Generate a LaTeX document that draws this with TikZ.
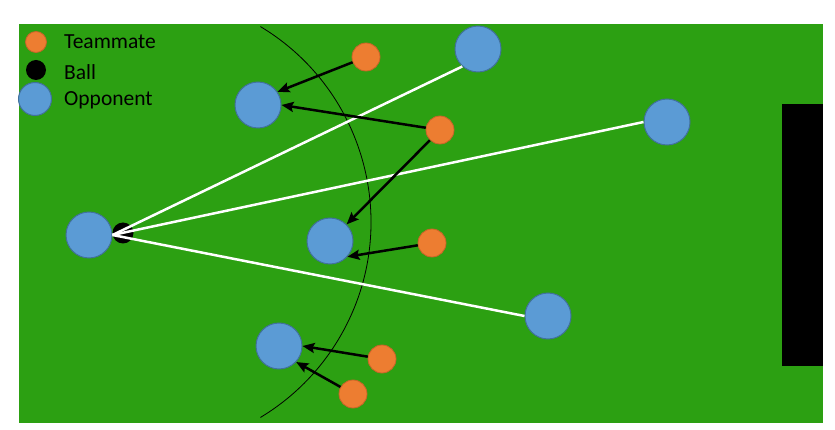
\documentclass[tikz,border=0pt]{standalone}
\usepackage{fontspec}
\setmainfont{Carlito}
\usetikzlibrary{arrows.meta}
\definecolor{field}{RGB}{44,160,18}
\definecolor{oppfill}{RGB}{91,155,213}
\definecolor{oppline}{RGB}{65,113,156}
\definecolor{matefill}{RGB}{237,125,49}
\definecolor{mateline}{RGB}{200,100,40}
\tikzset{
  opp/.style={circle, fill=oppfill, draw=oppline, line width=1pt, minimum size=46pt, inner sep=0pt},
  legopp/.style={circle, fill=oppfill, draw=oppline, line width=1pt, minimum size=33pt, inner sep=0pt},
  mate/.style={circle, fill=matefill, draw=mateline, line width=0.8pt, minimum size=28pt, inner sep=0pt},
  legmate/.style={circle, fill=matefill, draw=mateline, line width=0.8pt, minimum size=21pt, inner sep=0pt},
  ballst/.style={circle, fill=black, minimum size=21pt, inner sep=0pt},
  legtext/.style={anchor=west, font=\fontsize{21.5}{23}\selectfont, text=black, inner sep=0pt},
  pass/.style={black, line width=2.5pt, -{Stealth[length=12pt,width=10pt,inset=2pt]}},
  shot/.style={white, line width=2.5pt},
  zone/.style={black, line width=0.8pt}
}
\begin{document}
\begin{tikzpicture}[x=1pt, y=-1pt]
\useasboundingbox (0,0) rectangle (835,430);
% field and goal
\fill[field] (19,24) rectangle (823,423);
\fill[black] (782,104) rectangle (823,366);
% zone arc
\draw[zone] (143,222) ++(-59:228) arc[start angle=-59, end angle=59, radius=228];
% legend
\node[legmate] (lm) at (36,42) {};
\node[ballst, minimum size=20pt] (lb) at (36,70) {};
\node[legopp] (lo) at (35,99) {};
\node[legtext] (tm) at (64,42) {Teammate};
\node[legtext] (tb) at (64,72) {Ball};
\node[legtext] (to) at (64,100) {Opponent};
% opponents
\node[opp] (O1) at (478,49) {};
\node[opp] (O2) at (258,105) {};
\node[opp] (O3) at (330,241) {};
\node[opp] (O4) at (279,346) {};
\node[opp] (O5) at (667,122) {};
\node[opp] (O6) at (548,316) {};
\node[opp] (O7) at (89,235) {};
% ball
\node[ballst] (B) at (123,233) {};
% teammates
\node[mate] (T1) at (366,57) {};
\node[mate] (T2) at (440,130) {};
\node[mate] (T3) at (432,243) {};
\node[mate] (T4) at (382,359) {};
\node[mate] (T5) at (353,394) {};
% shooting lanes
\coordinate (S) at (O7.east);
\draw[shot] (S) -- (O1.228);
\draw[shot] (S) -- (O5.180);
\draw[shot] (S) -- (O6.180);
% marking arrows
\draw[pass] (T1) -- (O2.34);
\draw[pass] (T2) -- (O2.0);
\draw[pass] (T2) -- (O3.45);
\draw[pass] (T3) -- (O3.-42);
\draw[pass] (T4) -- (O4.0);
\draw[pass] (T5) -- (O4.-43);
\end{tikzpicture}
\end{document}
